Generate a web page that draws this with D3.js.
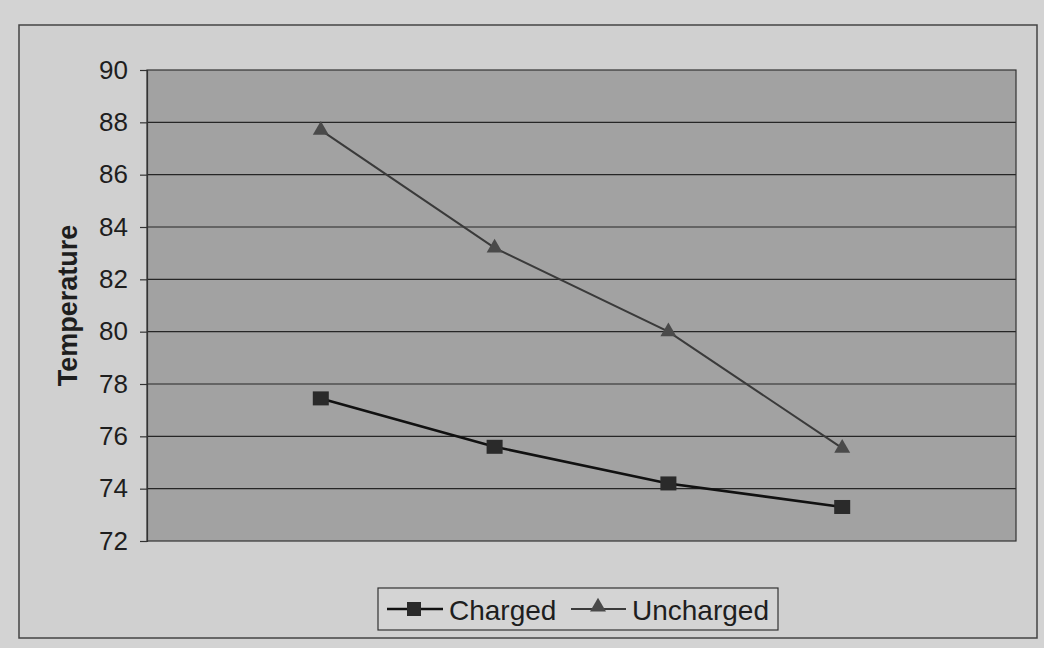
<!DOCTYPE html>
<html>
<head>
<meta charset="utf-8">
<script src="https://cdn.jsdelivr.net/npm/d3@7"></script>
<style>
  html, body { margin: 0; padding: 0; background: #d2d2d2; }
  svg { display: block; font-family: "Liberation Sans", Arial, sans-serif; }
</style>
</head>
<body>
<svg id="chart" width="1044" height="648"></svg>
<script>
// Measurement positions along the x axis (no labels are shown for them)
const positions = [1, 2, 3, 4];
const charged = [77.45, 75.6, 74.2, 73.3];
const uncharged = [87.7, 83.2, 80.0, 75.55];
const yTicks = [72, 74, 76, 78, 80, 82, 84, 86, 88, 90];
const seriesNames = ["Charged", "Uncharged"];

const svg = d3.select("#chart");
const W = 1044, H = 648;

// outer chart frame
svg.append("rect").attr("x", 0).attr("y", 0).attr("width", W).attr("height", H).attr("fill", "#d3d3d3");
svg.append("rect")
  .attr("x", 19).attr("y", 25).attr("width", 1018).attr("height", 613)
  .attr("fill", "#d0d0d0").attr("stroke", "#444").attr("stroke-width", 1.5);

const plot = { left: 147, top: 70, right: 1016, bottom: 541 };

const x = d3.scaleLinear().domain([0, 5]).range([plot.left, plot.right]);
const y = d3.scaleLinear().domain([72, 90]).range([plot.bottom, plot.top]);

// plot area
svg.append("rect")
  .attr("x", plot.left).attr("y", plot.top)
  .attr("width", plot.right - plot.left).attr("height", plot.bottom - plot.top)
  .attr("fill", "#a2a2a2");

// horizontal gridlines
svg.append("g").selectAll("line").data(yTicks.filter(t => t > 72 && t < 90)).join("line")
  .attr("x1", plot.left).attr("x2", plot.right)
  .attr("y1", d => y(d)).attr("y2", d => y(d))
  .attr("stroke", "#262626").attr("stroke-width", 1.2);

// plot border
svg.append("rect")
  .attr("x", plot.left).attr("y", plot.top)
  .attr("width", plot.right - plot.left).attr("height", plot.bottom - plot.top)
  .attr("fill", "none").attr("stroke", "#333").attr("stroke-width", 1.2);

// y axis
const yAxis = d3.axisLeft(y).tickValues(yTicks).tickSize(7).tickPadding(12).tickFormat(d3.format("d"));
const gy = svg.append("g").attr("transform", `translate(${plot.left},0)`).call(yAxis);
gy.select(".domain").attr("stroke", "#333").attr("stroke-width", 1.2);
gy.selectAll(".tick line").attr("stroke", "#333").attr("stroke-width", 1.2);
gy.selectAll(".tick text").attr("font-size", 26).attr("fill", "#1e1e1e")
  .attr("font-family", "'Liberation Sans', Arial, sans-serif");

// y axis title
svg.append("text")
  .attr("transform", `translate(77,${(plot.top + plot.bottom) / 2}) rotate(-90)`)
  .attr("text-anchor", "middle")
  .attr("font-size", 27).attr("font-weight", "bold").attr("fill", "#1e1e1e")
  .text("Temperature");

const line = d3.line().x(d => x(d[0])).y(d => y(d[1]));
const unchargedPts = positions.map((p, i) => [p, uncharged[i]]);
const chargedPts = positions.map((p, i) => [p, charged[i]]);

const tri = d3.symbol().type(d3.symbolTriangle).size(110);

// Uncharged series
svg.append("path").datum(unchargedPts).attr("d", line)
  .attr("fill", "none").attr("stroke", "#3a3a3a").attr("stroke-width", 2);
svg.append("g").selectAll("path").data(unchargedPts).join("path")
  .attr("d", tri)
  .attr("transform", d => `translate(${x(d[0])},${y(d[1])})`)
  .attr("fill", "#4a4a4a");

// Charged series
svg.append("path").datum(chargedPts).attr("d", line)
  .attr("fill", "none").attr("stroke", "#111").attr("stroke-width", 2.6);
svg.append("g").selectAll("rect").data(chargedPts).join("rect")
  .attr("x", d => x(d[0]) - 8).attr("y", d => y(d[1]) - 7)
  .attr("width", 16).attr("height", 14)
  .attr("fill", "#2a2a2a");

// legend
const lg = svg.append("g");
lg.append("rect").attr("x", 378).attr("y", 588).attr("width", 400).attr("height", 42)
  .attr("fill", "#d4d4d4").attr("stroke", "#333").attr("stroke-width", 1.2);

// Charged entry
lg.append("line").attr("x1", 387).attr("x2", 443).attr("y1", 609).attr("y2", 609)
  .attr("stroke", "#111").attr("stroke-width", 2.4);
lg.append("rect").attr("x", 407).attr("y", 602).attr("width", 14).attr("height", 14).attr("fill", "#2a2a2a");
lg.append("text").attr("x", 449).attr("y", 620).attr("font-size", 28).attr("fill", "#1e1e1e").text(seriesNames[0]);

// Uncharged entry
lg.append("line").attr("x1", 571).attr("x2", 626).attr("y1", 609).attr("y2", 609)
  .attr("stroke", "#3a3a3a").attr("stroke-width", 2);
lg.append("path").attr("d", tri).attr("transform", "translate(598,607)").attr("fill", "#4a4a4a");
lg.append("text").attr("x", 632).attr("y", 620).attr("font-size", 28).attr("fill", "#1e1e1e").text(seriesNames[1]);
</script>
</body>
</html>
